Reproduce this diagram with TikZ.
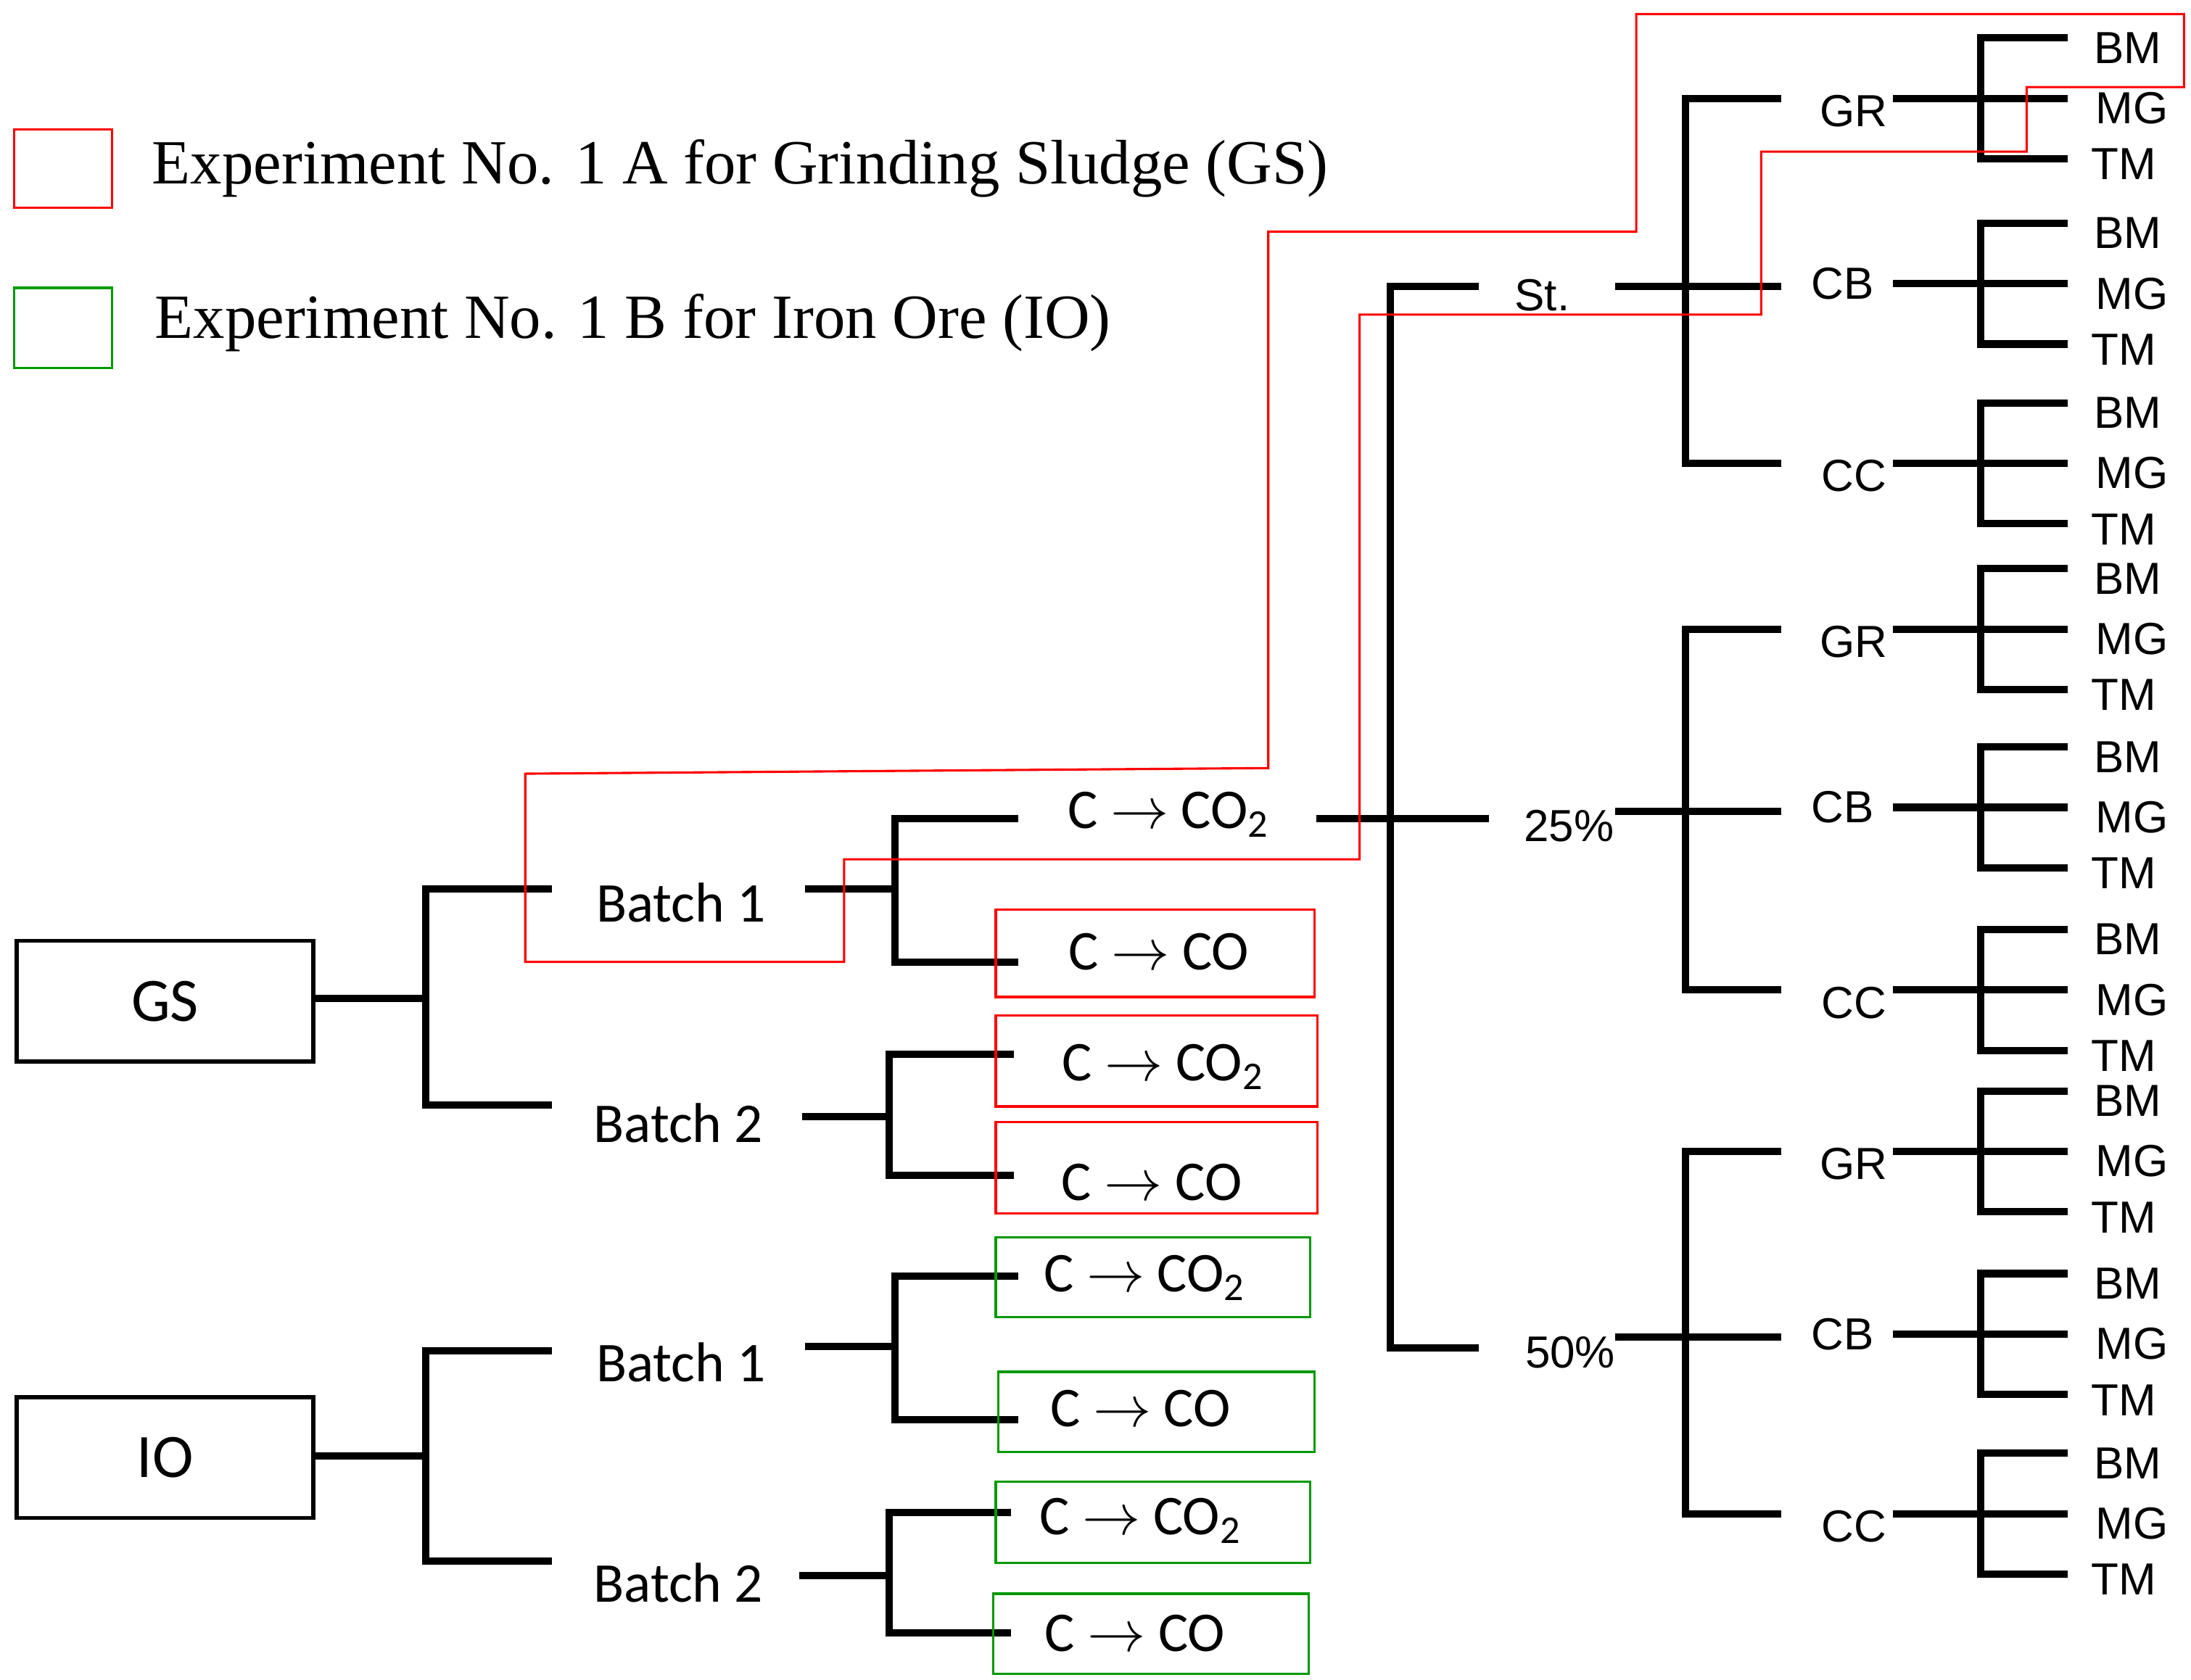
\documentclass[tikz,border=0pt]{standalone}
\usepackage{fontspec}
\setmainfont{Liberation Serif}
\newfontfamily\calfnt{Carlito}
\newfontfamily\arifnt{Liberation Sans}
\begin{document}
\begin{tikzpicture}[x=0.5pt,y=-0.5pt,
 tk/.style={line width=2.6pt},
 bx/.style={draw,line width=1.5pt},
 rb/.style={draw=red,line width=0.8pt},
 gb/.style={draw=green!60!black,line width=0.8pt},
 lf/.style={font=\arifnt\fontsize{16}{16}\selectfont,inner sep=0pt},
 bt/.style={font=\calfnt\fontsize{20}{20}\selectfont,inner sep=0pt},
 lg/.style={font=\fontsize{22.4}{23}\selectfont,anchor=west,inner sep=0pt}]
\useasboundingbox (0,0) rectangle (1560,1196);
% legend
\draw[rb] (10,92) rectangle (80,148);
\draw[gb] (10,205) rectangle (80,262);
\node[lg] at (108,120) {Experiment No. 1 A for Grinding Sludge (GS)};
\node[lg] at (110,230) {Experiment No. 1 B for Iron Ore (IO)};
% boxes
\node[bx,minimum width=105.5pt,minimum height=43pt,bt,font=\calfnt\fontsize{22}{22}\selectfont] (gs) at (117.5,713) {GS};
\node[bx,minimum width=105.5pt,minimum height=43pt,bt,font=\calfnt\fontsize{22}{22}\selectfont] (io) at (117.5,1038) {IO};
% GS tree
\draw[tk] (223,711)--(303,711);
\draw[tk] (393,633)--(303,633)--(303,787)--(393,787);
\node[bt] at (485,643) {Batch 1};
\node[bt] at (483,800) {Batch 2};
\draw[tk] (573,633)--(637,633);
\draw[tk] (725,583)--(637,583)--(637,685)--(725,685);
\draw[tk] (571,795)--(633,795);
\draw[tk] (722,751)--(633,751)--(633,837)--(722,837);
\node[bt] at (832,580) {C $\rightarrow$ CO\textsubscript{2}};
\node[bt] at (825,678) {C $\rightarrow$ CO};
\node[bt] at (828,760) {C $\rightarrow$ CO\textsubscript{2}};
\node[bt] at (820,842) {C $\rightarrow$ CO};
% IO tree
\draw[tk] (223,1037)--(303,1037);
\draw[tk] (393,962)--(303,962)--(303,1112)--(393,1112);
\node[bt] at (485,970) {Batch 1};
\node[bt] at (483,1127) {Batch 2};
\draw[tk] (573,959)--(637,959);
\draw[tk] (725,909)--(637,909)--(637,1011)--(725,1011);
\draw[tk] (569,1122)--(633,1122);
\draw[tk] (720,1077)--(633,1077)--(633,1163)--(720,1163);
\node[bt] at (815,910) {C $\rightarrow$ CO\textsubscript{2}};
\node[bt] at (812,1003) {C $\rightarrow$ CO};
\node[bt] at (812,1083) {C $\rightarrow$ CO\textsubscript{2}};
\node[bt] at (808,1163) {C $\rightarrow$ CO};
% coloured boxes
\draw[rb] (709,648) rectangle (936,710);
\draw[rb] (709,723) rectangle (938,788);
\draw[rb] (709,799) rectangle (938,864);
\draw[gb] (709,881) rectangle (933,938);
\draw[gb] (711,977) rectangle (936,1034);
\draw[gb] (709,1055) rectangle (933,1113);
\draw[gb] (707,1135) rectangle (932,1192);
% right tree
\draw[tk] (937,583)--(1060,583);
\draw[tk] (1053,204)--(990,204)--(990,960)--(1053,960);
\node[lf] at (1098,210) {St.};
\node[lf] at (1117,588) {25\%};
\node[lf] at (1118,963) {50\%};
\foreach \yc/\ya/\yb/\yd in {204/70/202/330, 578/448/575/705, 952/820/950/1078}{
 \draw[tk] (1150,\yc)--(1268,\yc);
 \draw[tk] (1268,\ya)--(1200,\ya)--(1200,\yd)--(1268,\yd);
 \node[lf] at (1320,\ya+9) {GR};
 \node[lf] at (1312,\yb) {CB};
 \node[lf] at (1320,\yd+9) {CC};
 \foreach \y in {\ya,\yb,\yd}{
  \draw[tk] (1348,\y)--(1410,\y);
  \draw[tk] (1472,\y-43)--(1410,\y-43)--(1410,\y+43)--(1472,\y+43);
  \draw[tk] (1410,\y)--(1472,\y);
  \node[lf] at (1515,\y-36) {BM};
  \node[lf] at (1518,\y+7) {MG};
  \node[lf] at (1512,\y+47) {TM};
 }
}
% red route
\draw[red,line width=0.8pt] (374,551)--(903,547)--(903,165)--(1165,165)--(1165,10)--(1555,10)--(1555,62)--(1443,62)--(1443,108)--(1254,108)--(1254,224)--(968,224)--(968,612)--(601,612)--(601,685)--(374,685)--cycle;
\end{tikzpicture}
\end{document}
